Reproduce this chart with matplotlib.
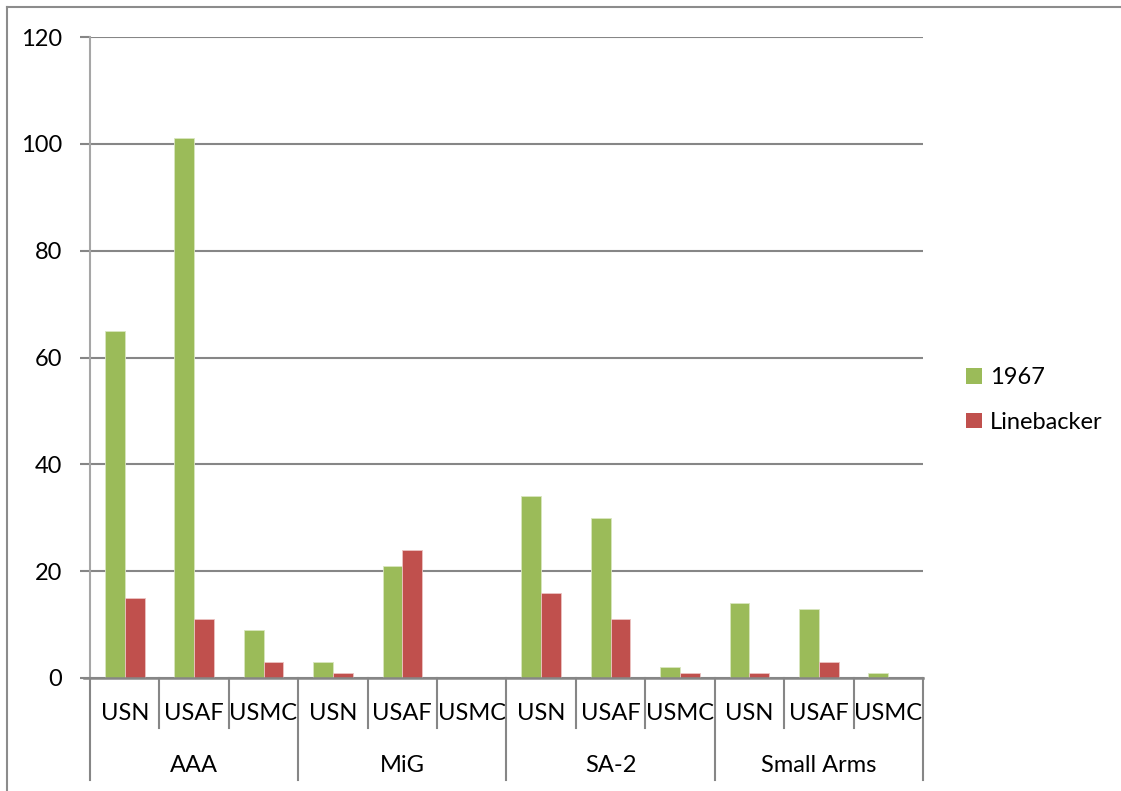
import matplotlib
matplotlib.use("Agg")
import matplotlib.pyplot as plt
from matplotlib.lines import Line2D
from matplotlib.patches import Patch

# Losses by threat type and service
groups = ["AAA", "MiG", "SA-2", "Small Arms"]
services = ["USN", "USAF", "USMC"]
series_names = ["1967", "Linebacker"]
values_1967 = [65, 101, 9, 3, 21, 0, 34, 30, 2, 14, 13, 1]
values_linebacker = [15, 11, 3, 1, 24, 0, 16, 11, 1, 1, 3, 0]
y_ticks = [0, 20, 40, 60, 80, 100, 120]

green = "#9BBB59"
red = "#C0504D"
grid_gray = "#868686"
FS = 17

plt.rcParams["font.family"] = ["Lato", "DejaVu Sans"]

W, H = 1121, 791
fig = plt.figure(figsize=(W / 100, H / 100), dpi=100)

x0, x1 = 90, 923
y_top, y_bot = 37, 678
ax = fig.add_axes([x0 / W, 1 - y_bot / H, (x1 - x0) / W, (y_bot - y_top) / H])

n = len(values_1967)
bar_w = 1 / 3.5
centers = [i + 0.5 for i in range(n)]
ax.bar([c - bar_w / 2 for c in centers], values_1967, width=bar_w,
       color=green, edgecolor="#d9e6bf", linewidth=0.6, zorder=3)
ax.bar([c + bar_w / 2 for c in centers], values_linebacker, width=bar_w,
       color=red, edgecolor="#ecc3c2", linewidth=0.6, zorder=3)

ax.set_xlim(0, n)
ax.set_ylim(0, 120)
ax.set_yticks(y_ticks)
ax.set_yticklabels([str(t) for t in y_ticks], fontsize=FS, color="#000000")
ax.tick_params(axis="y", length=7, width=1.5, color=grid_gray, pad=13)
ax.set_xticks([])
ax.yaxis.grid(True, color=grid_gray, linewidth=1.5, zorder=0)
for s in ["top", "right", "bottom"]:
    ax.spines[s].set_visible(False)
ax.spines["left"].set_color("#a6a6a6")
ax.spines["left"].set_linewidth(1.5)

ax_h = y_bot - y_top
def px(p):
    return -p / ax_h

xt = ax.get_xaxis_transform()
# horizontal category axis line, with its left tick
ax.plot([-6 / (x1 - x0) * n, n], [0, 0], transform=xt, color=grid_gray,
        linewidth=1.8, clip_on=False, zorder=4)
# separators between services (short) and between groups (long)
for i in range(n + 1):
    depth = 102 if i % 3 == 0 else 50
    ax.plot([i, i], [0, px(depth)], transform=xt, color=grid_gray,
            linewidth=1.5, clip_on=False, zorder=4)
# service labels
for i, c in enumerate(centers):
    ax.text(c, px(35), services[i % 3], transform=xt, ha="center",
            va="center", fontsize=FS)
# group labels
for g, name in enumerate(groups):
    ax.text(g * 3 + 1.5, px(87), name, transform=xt, ha="center",
            va="center", fontsize=FS)

# legend
handles = [Patch(facecolor=green, edgecolor="none"),
           Patch(facecolor=red, edgecolor="none")]
fig.legend(handles, series_names, loc="center left",
           bbox_to_anchor=(957 / W, 1 - 400 / H), frameon=False,
           fontsize=FS, handlelength=0.65, handleheight=0.65,
           handletextpad=0.35, labelspacing=1.0, borderaxespad=0)

# outer chart frame (left and top edges)
fig.add_artist(Line2D([7 / W, 7 / W], [0, 1 - 7 / H], color="#8c8c8c",
                      linewidth=1.5, transform=fig.transFigure))
fig.add_artist(Line2D([7 / W, 1], [1 - 7 / H, 1 - 7 / H], color="#8c8c8c",
                      linewidth=1.5, transform=fig.transFigure))

fig.savefig("out.png", dpi=100)
